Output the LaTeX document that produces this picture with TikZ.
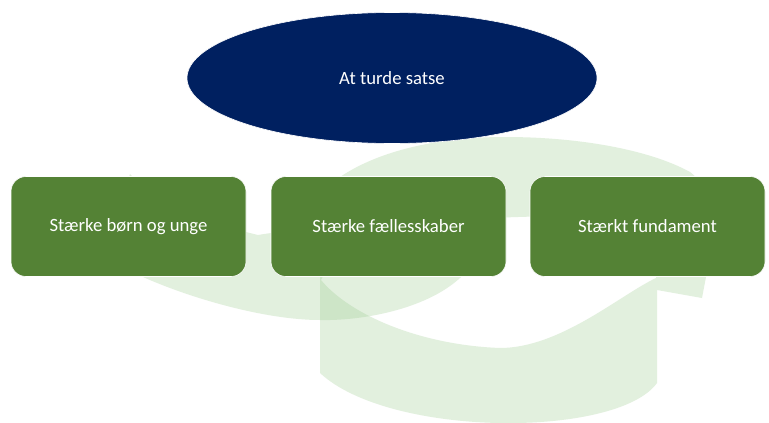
\documentclass[tikz,border=0pt]{standalone}
\usepackage{fontspec}
\setmainfont{Carlito}
\usetikzlibrary{shapes.geometric}
\definecolor{navyfill}{RGB}{0,32,96}
\definecolor{boxgreen}{RGB}{84,130,53}
\definecolor{bandcol}{RGB}{226,240,222}
\definecolor{overlapcol}{RGB}{205,229,199}
\tikzset{
  lbl/.style={text=white, font=\fontsize{18.7}{22}\selectfont},
  topoval/.style={ellipse, fill=navyfill, draw=white, line width=0.6pt, minimum width=410pt, minimum height=131pt, inner sep=0pt, lbl},
  greenbox/.style={rectangle, rounded corners=15pt, fill=boxgreen, draw=white, line width=0.6pt, minimum width=235pt, minimum height=100pt, inner sep=0pt, lbl}
}
\begin{document}
\begin{tikzpicture}[x=1pt,y=-1pt]
\useasboundingbox (0,0) rectangle (769,423);
\fill[white] (0,0) rectangle (769,423);
% left background band
\fill[bandcol] (130,174) .. controls (120,205) and (125,255) .. (143,277)
  .. controls (190,298) and (265,320) .. (320,320)
  .. controls (360,321) and (425,310) .. (460,278)
  .. controls (480,262) and (490,250) .. (490,240)
  -- (460,228) .. controls (380,222) and (300,228) .. (258,235)
  .. controls (215,225) and (160,205) .. (132,176) -- cycle;
% right background ring (outer contour with hole)
\fill[bandcol, even odd rule] (320,373) -- (320,262) .. controls (318,215) and (322,195) .. (340,177)
  .. controls (380,150) and (440,137) .. (505,137)
  .. controls (580,137) and (650,150) .. (690,172)
  .. controls (720,195) and (730,250) .. (706,277)
  -- (702,298) -- (657,290) -- (657,383)
  .. controls (617,438) and (390,438) .. (320,373) -- cycle
  (321,280) .. controls (350,315) and (420,345) .. (500,348)
  .. controls (560,348) and (620,295) .. (656,278)
  -- (656,240) .. controls (640,215) and (580,215) .. (518,217)
  .. controls (440,219) and (360,240) .. (330,262) -- cycle;
% overlap of the two bands
\begin{scope}
  \clip (130,174) .. controls (120,205) and (125,255) .. (143,277)
    .. controls (190,298) and (265,320) .. (320,320)
    .. controls (360,321) and (425,310) .. (460,278)
    .. controls (480,262) and (490,250) .. (490,240)
    -- (460,228) .. controls (380,222) and (300,228) .. (258,235)
    .. controls (215,225) and (160,205) .. (132,176) -- cycle;
  \fill[overlapcol, even odd rule] (320,373) -- (320,262) .. controls (318,215) and (322,195) .. (340,177)
    .. controls (380,150) and (440,137) .. (505,137)
    .. controls (580,137) and (650,150) .. (690,172)
    .. controls (720,195) and (730,250) .. (706,277)
    -- (702,298) -- (657,290) -- (657,383)
    .. controls (617,438) and (390,438) .. (320,373) -- cycle
    (321,280) .. controls (350,315) and (420,345) .. (500,348)
    .. controls (560,348) and (620,295) .. (656,278)
    -- (656,240) .. controls (640,215) and (580,215) .. (518,217)
    .. controls (440,219) and (360,240) .. (330,262) -- cycle;
\end{scope}
% nodes
\node[topoval] (top) at (392,78) {At turde satse};
\node[greenbox] (b1) at (128.5,226.5) {Stærke børn og unge};
\node[greenbox] (b2) at (388.5,226.5) {Stærke fællesskaber};
\node[greenbox] (b3) at (647.5,226.5) {Stærkt fundament};
\end{tikzpicture}
\end{document}
